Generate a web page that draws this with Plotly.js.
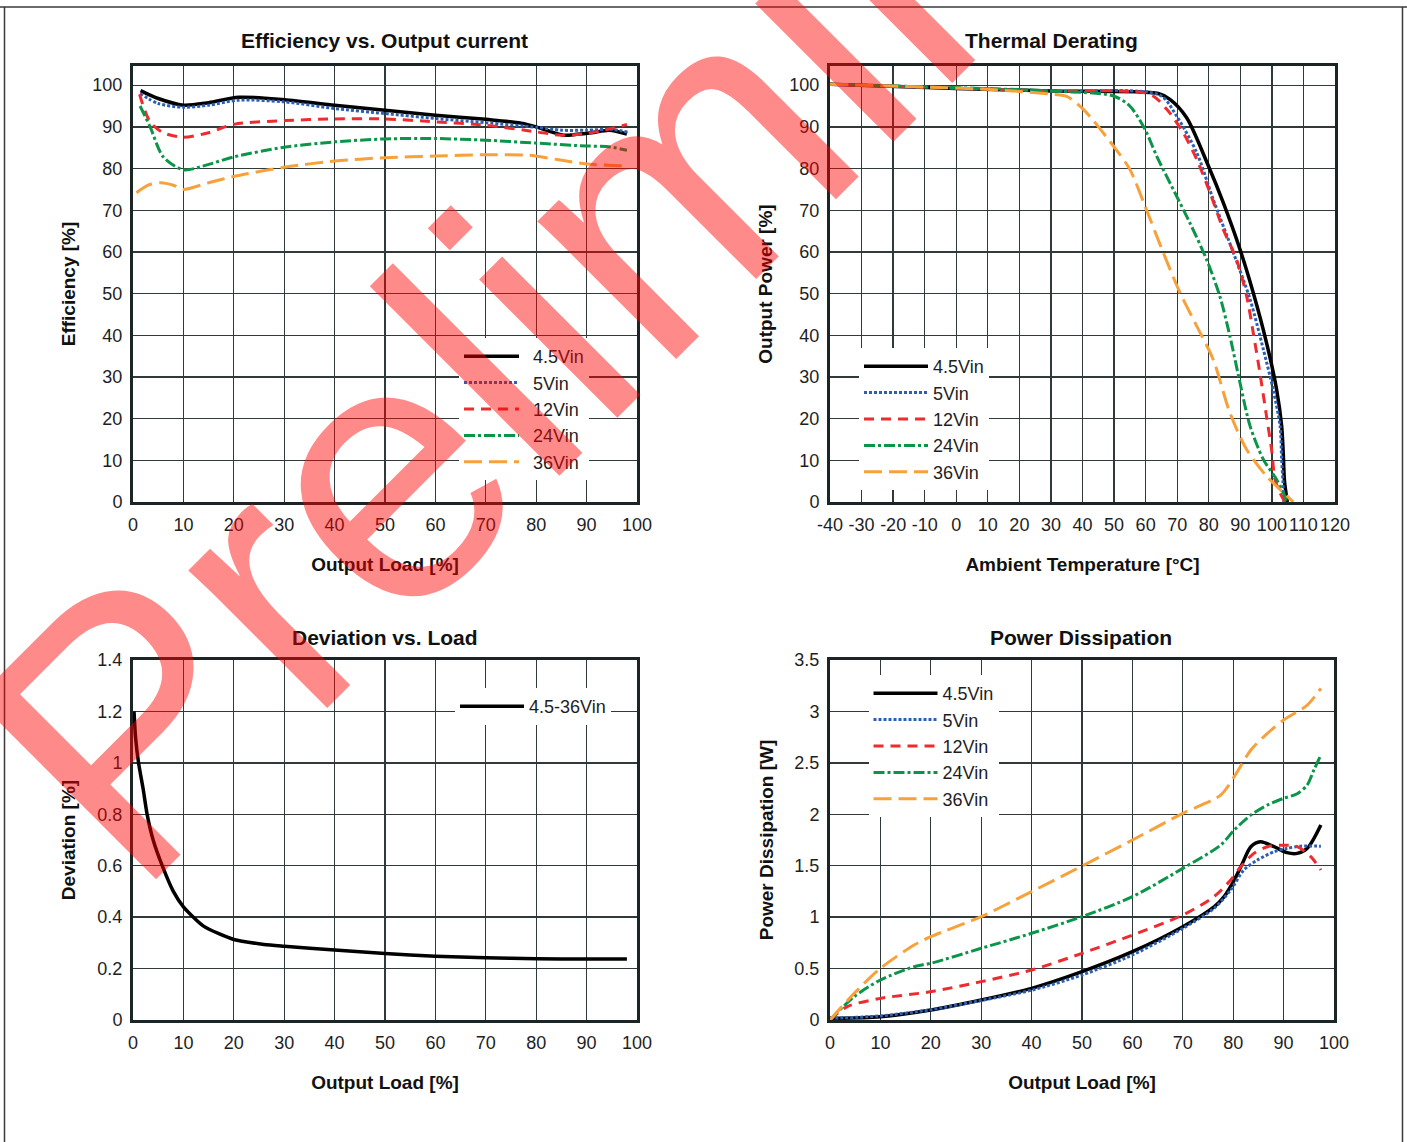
<!DOCTYPE html>
<html>
<head>
<meta charset="utf-8">
<script src="https://cdn.plot.ly/plotly-3.0.1.min.js"></script>
<style>
html,body{margin:0;padding:0;background:#fff;}
#chart{width:1407px;height:1142px;}
</style>
</head>
<body>
<div id="chart"></div>
<script>
// ---------------- DATA ----------------
// Efficiency vs. Output current (x: output load %, y: efficiency %)
const effX45 = [1.5, 5, 10, 15, 21, 30, 40, 50, 60, 70, 77, 80, 83, 85.5, 88, 91, 94.5, 98];
const effY45 = [98.7, 96.8, 95.2, 95.8, 97.1, 96.5, 95.2, 94.0, 92.8, 91.8, 90.9, 90.0, 88.8, 88.0, 88.2, 88.6, 89.2, 88.3];
const effX5  = [1.4, 5, 10, 15, 21, 30, 40, 50, 60, 70, 80, 85, 90, 95, 98.5];
const effY5  = [98.0, 95.6, 94.7, 95.2, 96.4, 96.0, 94.4, 93.2, 92.0, 91.0, 89.9, 89.2, 89.2, 89.4, 88.6];
const effX12 = [1.3, 3.4, 6, 10, 15, 20, 30, 40, 50, 60, 70, 80, 85, 90, 95, 98];
const effY12 = [97.8, 91.2, 88.6, 87.5, 88.6, 90.6, 91.5, 91.9, 91.9, 91.2, 90.4, 88.8, 88.0, 88.4, 89.6, 90.6];
const effX24 = [1.4, 3.4, 6, 10, 15, 20, 30, 40, 50, 60, 70, 80, 90, 94, 98];
const effY24 = [95.0, 90.0, 82.8, 79.7, 81.0, 82.8, 85.1, 86.4, 87.1, 87.2, 86.8, 86.1, 85.4, 85.3, 84.4];
const effX36 = [0.7, 3, 5.5, 8, 10, 15, 20, 30, 40, 50, 60, 70, 78.5, 84.5, 90, 98];
const effY36 = [74.2, 76.0, 76.6, 76.0, 75.0, 76.6, 78.1, 80.3, 81.8, 82.6, 83.0, 83.3, 83.2, 82.1, 81.1, 80.6];

// Thermal Derating (x: ambient temperature °C, y: output power %)
const thX45 = [-40, 0, 30, 64, 67.7, 73, 79.9, 84.6, 89.9, 94.1, 98.3, 101.5, 103.1, 103.6, 104.0, 104.9];
const thY45 = [100.2, 99.2, 98.6, 98.0, 96.6, 92.2, 80.6, 71.8, 60.6, 50.2, 38.2, 27.0, 18.2, 11.8, 5, 0];
const thX5  = [-40, 30, 64.5, 69.8, 76.2, 81.4, 87.8, 93.1, 97.3, 100.4, 102.6, 103.1, 103.5, 103.8];
const thY5  = [100.2, 98.6, 97.6, 92.6, 83.8, 72.6, 59.8, 48.6, 36.6, 27.0, 18.2, 10.2, 5, 0];
const thX12 = [-40, 30, 61.4, 66.7, 71.9, 76.2, 80.4, 84.6, 88.8, 92, 94.1, 96.2, 98.3, 99.9, 101, 102.6, 104.1];
const thY12 = [100.2, 98.6, 97.8, 94.2, 88.6, 82.2, 74.2, 65.4, 58.2, 49.4, 40.6, 31.0, 20.6, 12.6, 5.4, 2.2, 0];
const thX24 = [-40, 30, 49.8, 55, 59.8, 63.5, 69.8, 74, 79.3, 83.5, 86.7, 89.9, 93.1, 97.3, 101.5, 104.1, 104.7];
const thY24 = [100.2, 98.6, 97.4, 95.0, 89.4, 83.0, 73.4, 67.0, 58.2, 49.4, 39.8, 28.6, 18.2, 10.2, 5.4, 1.4, 0];
const thX36 = [-40, 10, 30.7, 35, 40.3, 49.8, 55, 59.8, 65.6, 70.9, 76.2, 81.4, 86.7, 92, 98.3, 102.6, 106.8];
const thY36 = [100.2, 99.0, 97.8, 97.3, 94.2, 85.4, 79.8, 71.0, 59.8, 50.2, 42.2, 34.2, 21.4, 12.6, 6.2, 3.0, 0];
const tempTicks = [-40, -30, -20, -10, 0, 10, 20, 30, 40, 50, 60, 70, 80, 90, 100, 110, 120];

// Deviation vs. Load (x: output load %, y: deviation %)
const devX = [0.2, 0.5, 1.1, 2.0, 2.8, 4.0, 5.8, 8.0, 10, 14, 20, 26, 30, 40, 50, 60, 70, 80, 90, 98];
const devY = [1.2, 1.1, 1.0, 0.9, 0.8, 0.7, 0.6, 0.5, 0.44, 0.365, 0.313, 0.294, 0.287, 0.272, 0.259, 0.248, 0.242, 0.238, 0.237, 0.237];

// Power Dissipation (x: output load %, y: W)
const pdX45 = [0, 10, 20, 30, 40, 50, 60, 70, 76.2, 78.2, 80.2, 81.8, 83.5, 85.4, 88.1, 90.7, 92.7, 94.7, 97.4];
const pdY45 = [0.016, 0.032, 0.097, 0.194, 0.308, 0.47, 0.664, 0.907, 1.10, 1.20, 1.36, 1.52, 1.685, 1.733, 1.685, 1.627, 1.62, 1.669, 1.896];
const pdX5  = [0, 10, 20, 30, 40, 50, 60, 70, 76.2, 79.5, 82.1, 84.8, 88.1, 90.7, 93.4, 97.4];
const pdY5  = [0.016, 0.04, 0.1, 0.19, 0.29, 0.437, 0.632, 0.891, 1.086, 1.264, 1.458, 1.555, 1.636, 1.669, 1.69, 1.69];
const pdX12 = [0, 3.4, 10, 20, 30, 40, 50, 60, 70, 76.2, 79.5, 81.5, 84.1, 86.8, 90, 92.7, 95.4, 97.4];
const pdY12 = [0.0, 0.13, 0.21, 0.275, 0.373, 0.486, 0.648, 0.826, 1.02, 1.2, 1.36, 1.49, 1.62, 1.685, 1.70, 1.685, 1.588, 1.458];
const pdX24 = [0, 4.8, 10, 16.7, 20, 30, 40, 50, 60, 70, 77.5, 80.2, 83.5, 86.8, 90, 92.7, 94.7, 96, 97.4];
const pdY24 = [0, 0.227, 0.389, 0.518, 0.551, 0.697, 0.843, 1.005, 1.199, 1.474, 1.70, 1.847, 1.993, 2.09, 2.155, 2.20, 2.285, 2.43, 2.576];
const pdX36 = [0, 4.8, 10, 16.7, 20, 30, 40, 50, 60, 70, 77.5, 80.2, 83.5, 86.8, 90, 94.7, 97.4];
const pdY36 = [0, 0.259, 0.502, 0.729, 0.81, 1.005, 1.248, 1.497, 1.75, 2.009, 2.187, 2.366, 2.625, 2.787, 2.916, 3.062, 3.224];

const seriesNames = ['4.5Vin', '5Vin', '12Vin', '24Vin', '36Vin'];
const devName = '4.5-36Vin';

// ---------------- STYLE ----------------
const W = 1407, H = 1142;
const px = v => v / W;
const py = v => 1 - v / H;
const FONT = '"Liberation Sans", Arial, Helvetica, sans-serif';
const TXT = '#1e1e1e';
const styles = [
  {color: '#000000', width: 3.5, dash: 'solid'},
  {color: '#2b5fb4', width: 3, dash: '3px,2px'},
  {color: '#ee2b2f', width: 3, dash: '10px,7px'},
  {color: '#0b9549', width: 3, dash: '11px,3px,3px,3px'},
  {color: '#f7a13b', width: 3, dash: '18px,7px'}
];

function mk(xs, ys, i, name, xa, ya, leg) {
  return {x: xs, y: ys, name: name, type: 'scatter', mode: 'lines',
    xaxis: xa, yaxis: ya, legend: leg,
    line: {color: styles[i].color, width: styles[i].width, dash: styles[i].dash, shape: 'spline', smoothing: 0.8},
    hoverinfo: 'skip'};
}

const data = [
  mk(effX45, effY45, 0, seriesNames[0], 'x', 'y', 'legend'),
  mk(effX5, effY5, 1, seriesNames[1], 'x', 'y', 'legend'),
  mk(effX12, effY12, 2, seriesNames[2], 'x', 'y', 'legend'),
  mk(effX24, effY24, 3, seriesNames[3], 'x', 'y', 'legend'),
  mk(effX36, effY36, 4, seriesNames[4], 'x', 'y', 'legend'),
  mk(thX45, thY45, 0, seriesNames[0], 'x2', 'y2', 'legend2'),
  mk(thX5, thY5, 1, seriesNames[1], 'x2', 'y2', 'legend2'),
  mk(thX12, thY12, 2, seriesNames[2], 'x2', 'y2', 'legend2'),
  mk(thX24, thY24, 3, seriesNames[3], 'x2', 'y2', 'legend2'),
  mk(thX36, thY36, 4, seriesNames[4], 'x2', 'y2', 'legend2'),
  mk(devX, devY, 0, devName, 'x3', 'y3', 'legend3'),
  mk(pdX45, pdY45, 0, seriesNames[0], 'x4', 'y4', 'legend4'),
  mk(pdX5, pdY5, 1, seriesNames[1], 'x4', 'y4', 'legend4'),
  mk(pdX12, pdY12, 2, seriesNames[2], 'x4', 'y4', 'legend4'),
  mk(pdX24, pdY24, 3, seriesNames[3], 'x4', 'y4', 'legend4'),
  mk(pdX36, pdY36, 4, seriesNames[4], 'x4', 'y4', 'legend4')
];
data[10].line.smoothing = 0.6;

function axis(domain, range, anchor, titleText, standoff, extra) {
  return Object.assign({
    domain: domain, range: range, anchor: anchor, automargin: false, fixedrange: true,
    showgrid: true, gridcolor: '#303a3a', gridwidth: 1.3,
    showline: true, mirror: true, linecolor: '#1b2525', linewidth: 3,
    zeroline: false, ticks: '', ticklabelstandoff: 4, tickangle: 0,
    tickfont: {family: FONT, size: 18, color: TXT},
    title: {text: titleText, standoff: standoff, font: {family: FONT, size: 19, color: '#111', weight: 700}}
  }, extra || {});
}

const yTop = [py(502), py(66)];
const yBot = [py(1020), py(660)];

function legend(x, y) {
  return {x: px(x), y: py(y), xanchor: 'left', yanchor: 'top', xref: 'paper', yref: 'paper',
    bgcolor: '#ffffff', borderwidth: 0, tracegroupgap: 0, itemwidth: 64,
    font: {family: FONT, size: 18, color: TXT}};
}

function title(text, x, y) {
  return {text: text, x: px(x), y: py(y), xref: 'paper', yref: 'paper', xanchor: 'center', yanchor: 'middle',
    showarrow: false, font: {family: FONT, size: 21, color: '#111', weight: 700}};
}

const layout = {
  width: W, height: H, autosize: false,
  margin: {l: 0, r: 0, t: 0, b: 0, pad: 0},
  paper_bgcolor: '#ffffff', plot_bgcolor: '#ffffff',
  showlegend: true,
  xaxis:  axis([px(133), px(637)], [0, 100], 'y', 'Output Load [%]', 25, {dtick: 10, tick0: 0}),
  yaxis:  axis(yTop, [0, 104.6], 'x', 'Efficiency [%]', 12, {dtick: 10, tick0: 0}),
  xaxis2: axis([px(830), px(1335)], [-40, 120], 'y2', 'Ambient Temperature [°C]', 25,
          {tickmode: 'array', tickvals: tempTicks, ticktext: tempTicks.map(String)}),
  yaxis2: axis(yTop, [0, 104.6], 'x2', 'Output Power [%]', 12, {dtick: 10, tick0: 0}),
  xaxis3: axis([px(133), px(637)], [0, 100], 'y3', 'Output Load [%]', 25, {dtick: 10, tick0: 0}),
  yaxis3: axis(yBot, [0, 1.4], 'x3', 'Deviation [%]', 17, {dtick: 0.2, tick0: 0}),
  xaxis4: axis([px(830), px(1334)], [0, 100], 'y4', 'Output Load [%]', 25, {dtick: 10, tick0: 0}),
  yaxis4: axis(yBot, [0, 3.5], 'x4', 'Power Dissipation [W]', 16, {dtick: 0.5, tick0: 0}),
  legend:  legend(459, 338),
  legend2: legend(859, 348),
  legend3: legend(455, 688),
  legend4: legend(868.5, 675),
  shapes: [
    {type: 'line', xref: 'paper', yref: 'paper', x0: px(0), x1: px(1407), y0: py(7), y1: py(7), line: {color: '#3a3a3a', width: 1.5}},
    {type: 'line', xref: 'paper', yref: 'paper', x0: px(4.5), x1: px(4.5), y0: py(7), y1: py(1142), line: {color: '#3a3a3a', width: 1.5}},
    {type: 'line', xref: 'paper', yref: 'paper', x0: px(1402.5), x1: px(1402.5), y0: py(7), y1: py(1142), line: {color: '#3a3a3a', width: 1.5}}
  ],
  annotations: [
    title('Efficiency vs. Output current', 385, 41),
    title('Thermal Derating', 1051, 41),
    title('Deviation vs. Load', 385, 637),
    title('Power Dissipation', 1081, 637),
    {text: 'Preliminary', x: px(698.6), y: py(157), xref: 'paper', yref: 'paper', xanchor: 'center', yanchor: 'middle',
     showarrow: false, textangle: -45, font: {family: FONT, size: 370, color: 'rgba(255,0,0,0.46)', weight: 400}}
  ]
};

Plotly.newPlot('chart', data, layout, {staticPlot: true, displayModeBar: false}).then(function () {
  document.querySelectorAll('.legend .legendlines path').forEach(function (p) {
    p.setAttribute('d', 'M5,0h55');
  });
});
</script>
</body>
</html>
